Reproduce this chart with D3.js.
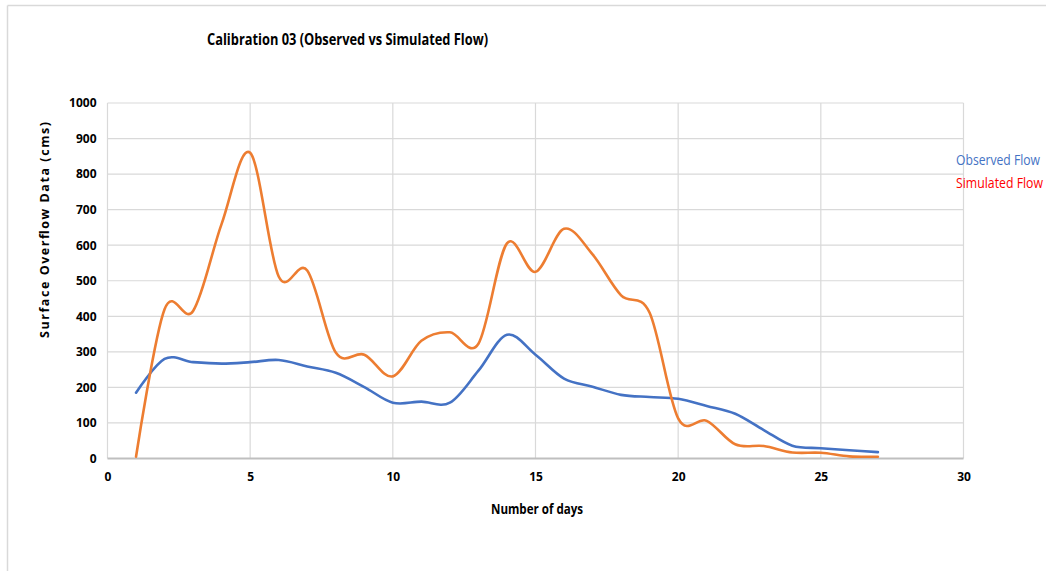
<!DOCTYPE html>
<html>
<head>
<meta charset="utf-8">
<script src="https://cdn.jsdelivr.net/npm/d3@7"></script>
<style>
  html, body { margin: 0; padding: 0; background: #fff; }
  svg { display: block; }
  .axis text { font-family: "Open Sans", "Liberation Sans", sans-serif; font-weight: 700; font-size: 12px; fill: #000; }
</style>
</head>
<body>
<svg id="chart" width="1054" height="571"></svg>
<script>
// Day numbers on the x axis
const days = [1, 2, 3, 4, 5, 6, 7, 8, 9, 10, 11, 12, 13, 14, 15, 16, 17, 18, 19, 20, 21, 22, 23, 24, 25, 26, 27];

// Surface overflow (cms)
const observedFlow = [185, 280, 271, 267, 271, 277, 259, 241, 201, 157, 160, 157, 247, 348, 292, 225, 202, 179, 173, 168, 148, 126, 80, 36, 29, 23, 18];
const simulatedFlow = [5, 420, 415, 660, 860, 512, 529, 298, 292, 231, 331, 355, 323, 605, 525, 646, 574, 459, 410, 113, 106, 40, 35, 17, 16, 6, 5];

// Axis ticks
const xTicks = [0, 5, 10, 15, 20, 25, 30];
const yTicks = [0, 100, 200, 300, 400, 500, 600, 700, 800, 900, 1000];

const seriesNames = ["Observed Flow", "Simulated Flow"];

const svg = d3.select("#chart");
const font = "'Open Sans', 'Liberation Sans', sans-serif";

// Outer frame (top and left edges)
svg.append("line").attr("x1", 7.5).attr("x2", 1046).attr("y1", 5.5).attr("y2", 5.5)
  .attr("stroke", "#d9d9d9").attr("stroke-width", 1.5);
svg.append("line").attr("x1", 7.5).attr("x2", 7.5).attr("y1", 5.5).attr("y2", 571)
  .attr("stroke", "#d9d9d9").attr("stroke-width", 1.5);

const plot = { left: 107.5, right: 963.5, top: 103, bottom: 458.5 };

const x = d3.scaleLinear().domain([0, 30]).range([plot.left, plot.right]);
const y = d3.scaleLinear().domain([0, 1000]).range([plot.bottom, plot.top]);

// Gridlines
const grid = svg.append("g");
grid.selectAll("line.h").data(yTicks.filter(d => d > 0)).join("line")
  .attr("class", "h")
  .attr("x1", plot.left).attr("x2", plot.right)
  .attr("y1", d => y(d)).attr("y2", d => y(d))
  .attr("stroke", "#d9d9d9").attr("stroke-width", 1.2);
grid.selectAll("line.v").data(xTicks).join("line")
  .attr("class", "v")
  .attr("x1", d => x(d)).attr("x2", d => x(d))
  .attr("y1", plot.top).attr("y2", plot.bottom)
  .attr("stroke", "#d9d9d9").attr("stroke-width", 1.2);

// Bottom axis line
svg.append("line").attr("x1", plot.left).attr("x2", plot.right)
  .attr("y1", plot.bottom).attr("y2", plot.bottom)
  .attr("stroke", "#bfbfbf").attr("stroke-width", 2);

// Axes (labels only)
const xAxis = svg.append("g").attr("class", "axis")
  .attr("transform", `translate(0,${plot.bottom})`)
  .call(d3.axisBottom(x).tickValues(xTicks).tickSize(0).tickPadding(14).tickFormat(d3.format("d")));
xAxis.select(".domain").remove();

const yAxis = svg.append("g").attr("class", "axis")
  .attr("transform", `translate(${plot.left},0)`)
  .call(d3.axisLeft(y).tickValues(yTicks).tickSize(0).tickPadding(11).tickFormat(d3.format("d")));
yAxis.select(".domain").remove();

// Series lines
const curve = d3.curveCatmullRom.alpha(0);
const lineGen = d3.line().x(d => x(d[0])).y(d => y(d[1])).curve(curve);

svg.append("path")
  .datum(days.map((d, i) => [d, observedFlow[i]]))
  .attr("d", lineGen)
  .attr("fill", "none").attr("stroke", "#4472C4").attr("stroke-width", 2.6)
  .attr("stroke-linejoin", "round").attr("stroke-linecap", "round");

svg.append("path")
  .datum(days.map((d, i) => [d, simulatedFlow[i]]))
  .attr("d", lineGen)
  .attr("fill", "none").attr("stroke", "#ED7D31").attr("stroke-width", 2.6)
  .attr("stroke-linejoin", "round").attr("stroke-linecap", "round");

// Title (condensed to its printed width)
svg.append("text")
  .attr("x", 207).attr("y", 45)
  .attr("font-family", font)
  .attr("font-size", 16.5).attr("font-weight", 700).attr("fill", "#000")
  .attr("textLength", 281).attr("lengthAdjust", "spacingAndGlyphs")
  .text("Calibration 03 (Observed vs Simulated Flow)");

// Axis titles
svg.append("text")
  .attr("x", 491).attr("y", 514)
  .attr("font-family", font)
  .attr("font-size", 14).attr("font-weight", 700).attr("fill", "#000")
  .attr("textLength", 92).attr("lengthAdjust", "spacingAndGlyphs")
  .text("Number of days");

svg.append("text")
  .attr("transform", `translate(49,338) rotate(-90)`)
  .attr("font-family", font)
  .attr("font-size", 12.5).attr("font-weight", 700).attr("fill", "#000")
  .attr("textLength", 216).attr("lengthAdjust", "spacing")
  .text("Surface Overflow Data (cms)");

// Legend
const legendColors = ["#4472C4", "#FF0000"];
const legendWidths = [84, 87];
svg.selectAll("text.legend").data(seriesNames).join("text")
  .attr("class", "legend")
  .attr("x", 956).attr("y", (d, i) => 165 + i * 23)
  .attr("font-family", font)
  .attr("font-size", 14).attr("fill", (d, i) => legendColors[i])
  .attr("textLength", (d, i) => legendWidths[i]).attr("lengthAdjust", "spacingAndGlyphs")
  .text(d => d);
</script>
</body>
</html>
